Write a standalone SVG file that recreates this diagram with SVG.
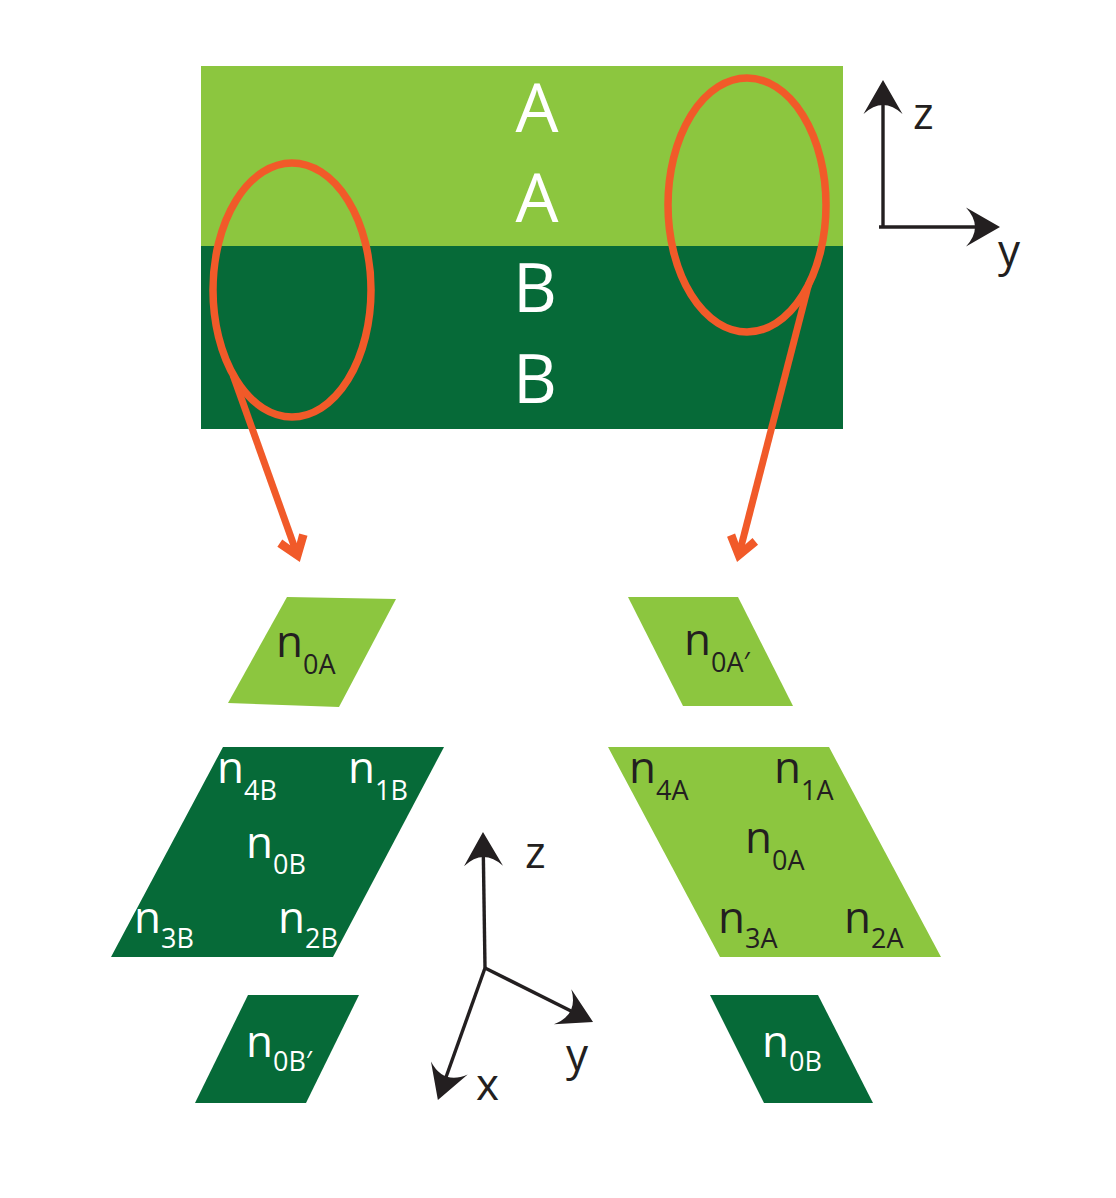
<svg xmlns="http://www.w3.org/2000/svg" width="1116" height="1198" viewBox="0 0 1116 1198">
<style>
.light{fill:#8cc63f}
.dark{fill:#066a38}
.ring{fill:none;stroke:#f15a29;stroke-width:7.5}
.orange{fill:none;stroke:#f15a29;stroke-width:7}
.axis{fill:none;stroke:#231f20;stroke-width:3.4}
text{font-family:"Open Sans","Noto Sans","Liberation Sans",sans-serif}
.big{font-size:68px;fill:#ffffff;text-anchor:middle}
.lbl{font-size:44px}
.w{fill:#ffffff}
.k{fill:#231f20}
.sub{font-size:27px}
.ax{font-size:44px;fill:#231f20}
</style>
<defs>
<marker id="ah" markerUnits="userSpaceOnUse" viewBox="-40 -25 60 50" markerWidth="60" markerHeight="50" refX="0" refY="0" orient="auto">
<path d="M14,0 L-20,-19.5 Q-2,0 -20,19.5 Z" fill="#231f20"/>
</marker>
<marker id="oh" markerUnits="userSpaceOnUse" viewBox="-40 -25 60 50" markerWidth="60" markerHeight="50" refX="0" refY="0" orient="auto">
<path d="M9,0 L-13,-16 L-18,-9 L-10,-3.5 L-10,3.5 L-18,9 L-13,16 Z" fill="#f15a29"/>
</marker>
</defs>

<g id="layers">
<rect class="light" x="201" y="66" width="642" height="181"/>
<rect class="dark" x="201" y="246" width="642" height="183"/>
<text class="big" x="537" y="132">A</text>
<text class="big" x="537" y="222">A</text>
<text class="big" x="535" y="312">B</text>
<text class="big" x="535" y="403">B</text>
</g>

<g id="node-top-left">
<polygon class="light" points="287,597 396,599 339,707 228,703"/>
<text class="lbl k" x="276" y="657">n<tspan class="sub" dy="17">0A</tspan></text>
</g>
<g id="node-top-right">
<polygon class="light" points="628,597 738,597 793,706 683,706"/>
<text class="lbl k" x="684" y="655">n<tspan class="sub" dy="17">0A′</tspan></text>
</g>
<g id="node-mid-left">
<polygon class="dark" points="223,747 444,747 333,957 111,957"/>
<text class="lbl w" x="217" y="783">n<tspan class="sub" dy="17">4B</tspan></text>
<text class="lbl w" x="348" y="783">n<tspan class="sub" dy="17">1B</tspan></text>
<text class="lbl w" x="246" y="858">n<tspan class="sub" dy="16">0B</tspan></text>
<text class="lbl w" x="134" y="933">n<tspan class="sub" dy="15">3B</tspan></text>
<text class="lbl w" x="278" y="933">n<tspan class="sub" dy="15">2B</tspan></text>
</g>
<g id="node-mid-right">
<polygon class="light" points="608,747 829,747 941,957 720,957"/>
<text class="lbl k" x="629" y="783">n<tspan class="sub" dy="17">4A</tspan></text>
<text class="lbl k" x="774" y="783">n<tspan class="sub" dy="17">1A</tspan></text>
<text class="lbl k" x="745" y="853">n<tspan class="sub" dy="17">0A</tspan></text>
<text class="lbl k" x="718" y="933">n<tspan class="sub" dy="15">3A</tspan></text>
<text class="lbl k" x="844" y="933">n<tspan class="sub" dy="15">2A</tspan></text>
</g>
<g id="node-bottom-left">
<polygon class="dark" points="248,995 359,995 306,1103 195,1103"/>
<text class="lbl w" x="246" y="1057">n<tspan class="sub" dy="14">0B′</tspan></text>
</g>
<g id="node-bottom-right">
<polygon class="dark" points="710,995 818,995 873,1103 764,1103"/>
<text class="lbl w" x="762" y="1057">n<tspan class="sub" dy="14">0B</tspan></text>
</g>

<g id="connectors">
<ellipse class="ring" cx="292" cy="290" rx="79" ry="127"/>
<ellipse class="ring" cx="747" cy="205" rx="79" ry="127"/>
<path class="orange" d="M233,375 L296.8,553.5" marker-end="url(#oh)"/>
<path class="orange" d="M809,283 L739.3,553.3" marker-end="url(#oh)"/>
</g>

<g id="axes-top">
<path class="axis" d="M883,227 L883,94" marker-end="url(#ah)"/>
<path class="axis" d="M879,227 L986,227" marker-end="url(#ah)"/>
<text class="ax" x="913" y="129">z</text>
<text class="ax" x="998" y="266">y</text>
</g>

<g id="axes-bottom">
<path class="axis" d="M485,968 L483.2,846" marker-end="url(#ah)"/>
<path class="axis" d="M485,968 L580.5,1015.7" marker-end="url(#ah)"/>
<path class="axis" d="M485,968 L442.6,1086.8" marker-end="url(#ah)"/>
<text class="ax" x="525" y="868">z</text>
<text class="ax" x="566" y="1070">y</text>
<text class="ax" x="476" y="1100">x</text>
</g>
</svg>
